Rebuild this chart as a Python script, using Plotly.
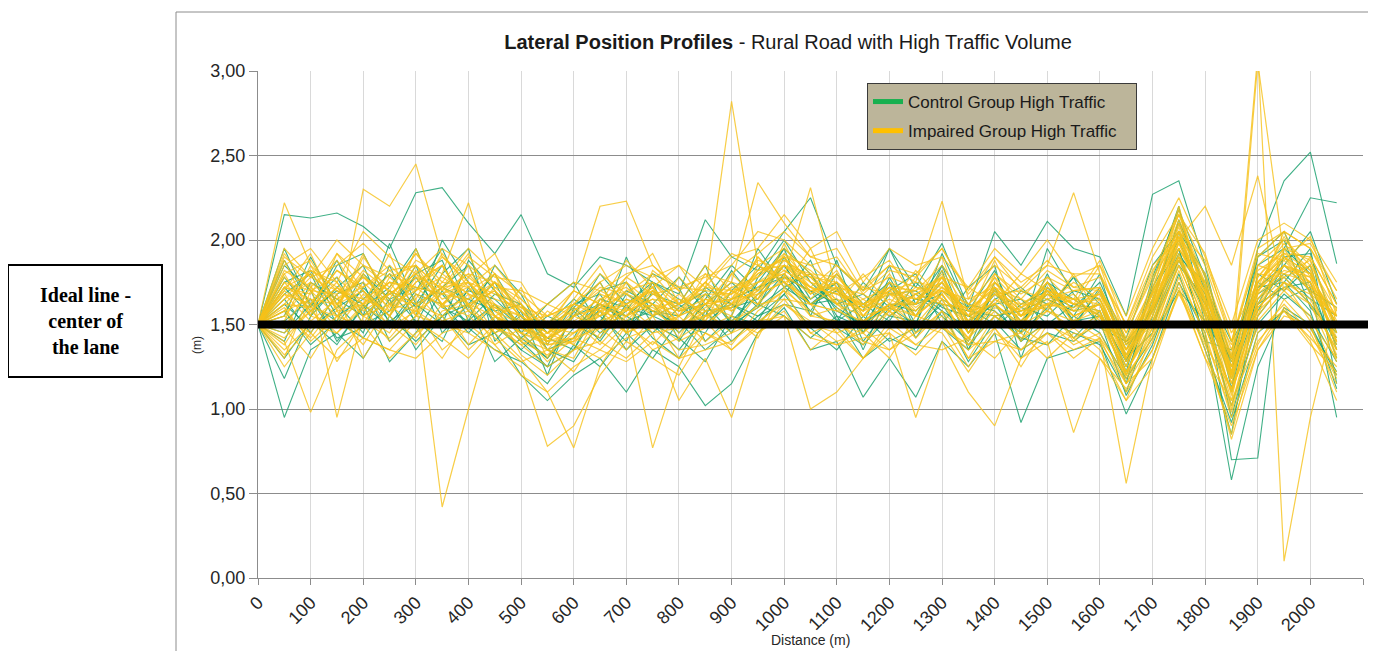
import plotly.graph_objects as go

distance = list(range(0, 2051, 50))

control = [
    [1.50, 2.15, 2.13, 2.16, 2.08, 1.95, 2.28, 2.31, 2.10, 1.92, 2.15, 1.80, 1.72, 1.90, 1.85, 1.75, 1.68, 2.12, 1.90, 1.82, 2.05, 2.25, 1.85, 1.70, 1.95, 1.72, 1.98, 1.60, 2.05, 1.85, 2.11, 1.95, 1.90, 1.55, 2.27, 2.35, 1.85, 1.20, 1.95, 2.35, 2.52, 1.86],
    [1.50, 0.95, 1.35, 1.45, 1.30, 1.55, 1.40, 1.55, 1.38, 1.45, 1.20, 1.05, 1.20, 1.30, 1.10, 1.35, 1.25, 1.02, 1.15, 1.45, 1.60, 1.35, 1.40, 1.07, 1.30, 1.07, 1.40, 1.25, 1.45, 0.92, 1.30, 1.35, 1.40, 0.97, 1.30, 1.75, 1.45, 0.58, 1.25, 1.60, 1.50, 1.20],
    [1.50, 1.18, 1.55, 1.72, 1.85, 1.50, 1.70, 1.95, 1.60, 1.75, 1.45, 1.30, 1.55, 1.80, 1.62, 1.75, 1.40, 1.65, 1.85, 1.70, 1.95, 1.80, 1.55, 1.48, 1.75, 1.55, 1.82, 1.35, 1.72, 1.40, 1.75, 1.65, 1.55, 1.20, 1.65, 2.10, 1.70, 0.70, 0.71, 1.95, 2.25, 2.22],
    [1.50, 1.75, 1.82, 1.55, 1.65, 1.80, 1.60, 1.72, 1.85, 1.55, 1.40, 1.25, 1.35, 1.60, 1.55, 1.45, 1.60, 1.70, 1.50, 1.60, 1.90, 1.65, 1.75, 1.40, 1.60, 1.68, 1.55, 1.40, 1.75, 1.60, 1.55, 1.70, 1.65, 1.30, 1.45, 2.05, 1.55, 1.10, 1.80, 1.70, 1.85, 1.35],
    [1.50, 1.45, 1.62, 1.78, 1.50, 1.58, 1.85, 1.45, 1.62, 1.80, 1.55, 1.42, 1.50, 1.42, 1.68, 1.58, 1.50, 1.45, 1.70, 1.85, 1.75, 1.58, 1.80, 1.62, 1.52, 1.75, 1.60, 1.55, 1.62, 1.48, 1.80, 1.50, 1.70, 1.35, 1.60, 1.90, 1.75, 1.25, 1.65, 1.80, 1.65, 1.55],
    [1.50, 1.65, 1.45, 1.68, 1.75, 1.40, 1.55, 2.00, 1.75, 1.50, 1.35, 1.50, 1.65, 1.55, 1.40, 1.70, 1.58, 1.62, 1.45, 1.78, 2.00, 1.75, 1.60, 1.50, 1.85, 1.45, 1.70, 1.60, 1.50, 1.70, 1.62, 1.42, 1.58, 1.15, 1.75, 2.20, 1.50, 1.30, 1.90, 2.00, 1.60, 1.45],
    [1.50, 1.85, 1.70, 1.40, 1.60, 1.72, 1.95, 1.60, 1.52, 1.68, 1.62, 1.35, 1.42, 1.70, 1.75, 1.50, 1.35, 1.55, 1.62, 1.55, 1.68, 1.88, 1.52, 1.75, 1.60, 1.50, 1.85, 1.62, 1.58, 1.45, 1.60, 1.78, 1.48, 1.40, 1.50, 1.85, 1.65, 0.95, 1.55, 1.75, 1.95, 1.15],
    [1.50, 1.55, 1.90, 1.62, 1.45, 1.85, 1.50, 1.80, 1.95, 1.40, 1.58, 1.20, 1.60, 1.45, 1.58, 1.80, 1.72, 1.40, 1.55, 1.95, 1.72, 1.62, 1.72, 1.35, 1.70, 1.80, 1.50, 1.72, 1.85, 1.30, 1.72, 1.55, 1.80, 1.28, 1.70, 1.95, 1.40, 1.35, 1.75, 1.65, 1.72, 0.95],
    [1.50, 1.72, 1.55, 1.85, 1.92, 1.62, 1.78, 1.55, 1.70, 1.65, 1.50, 1.48, 1.60, 1.75, 1.48, 1.62, 1.78, 1.58, 1.60, 1.65, 1.85, 1.62, 1.70, 1.58, 1.95, 1.62, 1.68, 1.45, 1.70, 1.52, 1.68, 1.60, 1.75, 1.40, 1.58, 1.92, 1.68, 1.22, 1.72, 1.85, 1.70, 1.60],
    [1.50, 1.40, 1.75, 1.65, 1.55, 1.70, 1.62, 1.85, 1.58, 1.45, 1.55, 1.35, 1.28, 1.52, 1.70, 1.62, 1.45, 1.62, 1.75, 1.60, 1.72, 1.80, 1.58, 1.50, 1.62, 1.58, 1.75, 1.52, 1.62, 1.65, 1.50, 1.62, 1.58, 1.25, 1.72, 2.00, 1.62, 1.30, 1.85, 1.95, 1.80, 1.50],
    [1.50, 1.88, 1.62, 1.52, 1.80, 1.65, 1.72, 1.68, 1.50, 1.62, 1.42, 1.55, 1.48, 1.62, 1.55, 1.68, 1.62, 1.50, 1.65, 1.72, 1.78, 1.70, 1.62, 1.68, 1.55, 1.65, 1.62, 1.58, 1.55, 1.58, 1.65, 1.58, 1.62, 1.32, 1.58, 1.88, 1.58, 1.18, 1.62, 1.72, 1.75, 1.30],
    [1.50, 1.62, 1.48, 1.60, 1.70, 1.52, 1.62, 1.72, 1.65, 1.58, 1.62, 1.45, 1.55, 1.62, 1.52, 1.58, 1.55, 1.68, 1.52, 1.68, 1.85, 1.62, 1.65, 1.45, 1.68, 1.70, 1.58, 1.48, 1.68, 1.55, 1.75, 1.52, 1.55, 1.28, 1.62, 2.12, 1.72, 1.40, 1.68, 1.78, 1.62, 1.42],
    [1.50, 1.30, 1.52, 1.38, 1.62, 1.28, 1.45, 1.70, 1.48, 1.35, 1.28, 1.15, 1.38, 1.25, 1.45, 1.30, 1.52, 1.35, 1.48, 1.62, 1.55, 1.42, 1.55, 1.30, 1.42, 1.35, 1.58, 1.28, 1.52, 1.35, 1.45, 1.40, 1.52, 1.08, 1.38, 1.80, 1.35, 0.92, 1.45, 1.58, 1.48, 1.22],
    [1.50, 1.95, 1.60, 1.88, 1.55, 1.98, 1.62, 1.50, 1.88, 1.70, 1.45, 1.62, 1.75, 1.48, 1.90, 1.55, 1.62, 1.85, 1.48, 1.75, 1.95, 1.55, 1.88, 1.45, 1.78, 1.50, 1.92, 1.58, 1.82, 1.45, 1.95, 1.68, 1.50, 1.42, 1.85, 2.05, 1.80, 1.30, 1.58, 1.85, 2.05, 1.62],
    [1.50, 1.58, 1.38, 1.52, 1.42, 1.65, 1.35, 1.55, 1.62, 1.28, 1.42, 1.30, 1.48, 1.58, 1.35, 1.50, 1.42, 1.28, 1.55, 1.50, 1.68, 1.48, 1.35, 1.55, 1.40, 1.48, 1.62, 1.38, 1.55, 1.42, 1.38, 1.55, 1.45, 1.18, 1.42, 1.70, 1.52, 1.02, 1.50, 1.68, 1.55, 1.28],
    [1.50, 1.68, 1.80, 1.50, 1.72, 1.55, 1.80, 1.88, 1.52, 1.85, 1.68, 1.38, 1.62, 1.68, 1.45, 1.75, 1.65, 1.55, 1.82, 1.62, 1.80, 1.62, 1.75, 1.52, 1.62, 1.62, 1.85, 1.45, 1.65, 1.72, 1.58, 1.78, 1.62, 1.22, 1.78, 2.18, 1.78, 1.12, 1.90, 2.05, 1.68, 1.38],
    [1.50, 1.52, 1.65, 1.42, 1.48, 1.70, 1.52, 1.40, 1.72, 1.52, 1.35, 1.25, 1.58, 1.40, 1.62, 1.42, 1.30, 1.58, 1.40, 1.55, 1.62, 1.58, 1.48, 1.38, 1.55, 1.52, 1.48, 1.35, 1.62, 1.40, 1.52, 1.45, 1.38, 1.10, 1.55, 1.95, 1.40, 0.85, 1.72, 1.75, 1.58, 1.12],
    [1.50, 1.78, 1.58, 1.70, 1.62, 1.48, 1.68, 1.62, 1.45, 1.62, 1.48, 1.42, 1.35, 1.65, 1.60, 1.55, 1.48, 1.72, 1.62, 1.52, 1.78, 1.70, 1.52, 1.62, 1.75, 1.42, 1.65, 1.55, 1.48, 1.62, 1.70, 1.48, 1.72, 1.38, 1.52, 1.88, 1.62, 1.28, 1.62, 1.90, 1.92, 1.45],
]

impaired = [
    [1.50, 1.70, 1.60, 1.75, 1.55, 1.68, 1.80, 1.62, 1.75, 1.55, 1.45, 1.40, 1.55, 1.60, 1.68, 1.55, 1.62, 1.70, 2.82, 1.85, 1.75, 1.65, 1.80, 1.60, 1.70, 1.55, 1.78, 1.45, 1.72, 1.58, 1.60, 1.65, 1.55, 1.30, 1.60, 1.95, 1.70, 1.20, 1.75, 1.90, 1.80, 1.50],
    [1.50, 1.55, 1.75, 1.62, 1.80, 1.58, 1.65, 0.42, 1.00, 1.55, 1.40, 1.32, 1.45, 1.55, 1.62, 1.70, 1.45, 1.58, 1.60, 1.80, 1.90, 1.72, 1.62, 1.50, 1.68, 1.65, 1.70, 1.55, 1.62, 1.50, 1.70, 1.55, 1.62, 1.20, 1.58, 2.05, 1.55, 1.10, 1.65, 1.85, 1.75, 1.40],
    [1.50, 1.80, 1.55, 1.50, 2.30, 2.20, 2.45, 1.90, 1.75, 1.60, 1.55, 1.45, 1.60, 1.50, 1.75, 1.62, 1.55, 1.75, 1.65, 1.90, 1.75, 1.80, 1.70, 1.55, 1.60, 1.72, 1.65, 1.40, 1.75, 1.55, 1.70, 1.62, 1.55, 1.25, 1.65, 1.90, 1.60, 1.30, 3.10, 0.10, 0.95, 1.60],
    [1.50, 2.22, 1.85, 1.70, 1.60, 1.75, 1.55, 1.80, 2.22, 1.70, 1.55, 1.35, 1.40, 1.65, 1.55, 1.70, 1.50, 1.62, 1.72, 1.65, 1.85, 1.70, 1.75, 1.60, 1.80, 1.55, 1.70, 1.62, 1.55, 1.60, 1.75, 1.50, 1.65, 1.35, 1.50, 2.00, 1.75, 1.20, 3.05, 1.90, 1.70, 1.30],
    [1.50, 1.35, 1.50, 1.45, 1.60, 1.40, 1.55, 1.50, 1.45, 1.35, 1.25, 0.78, 0.90, 1.20, 1.40, 1.30, 1.20, 1.45, 1.35, 1.50, 1.65, 1.45, 1.52, 1.40, 1.35, 1.45, 1.55, 1.30, 1.40, 1.35, 1.45, 1.30, 1.42, 0.56, 1.30, 1.70, 1.40, 0.82, 1.35, 1.55, 1.50, 1.10],
    [1.50, 1.60, 1.40, 1.55, 1.48, 1.70, 1.62, 1.55, 1.68, 1.45, 1.30, 1.10, 0.77, 1.25, 1.50, 0.77, 1.25, 1.55, 1.62, 1.75, 1.80, 1.55, 1.60, 1.45, 1.62, 1.50, 1.68, 1.45, 1.60, 1.55, 1.62, 1.40, 1.55, 1.20, 1.60, 1.90, 1.50, 1.00, 1.60, 1.75, 1.65, 1.35],
    [1.50, 1.72, 1.80, 1.65, 1.72, 1.85, 1.70, 1.85, 1.60, 1.75, 1.60, 1.55, 1.70, 2.20, 2.23, 1.85, 1.70, 1.80, 1.75, 2.34, 2.10, 1.90, 1.95, 1.70, 1.85, 1.75, 2.23, 1.65, 1.90, 1.70, 1.85, 2.28, 1.80, 1.45, 1.80, 2.15, 1.85, 1.40, 1.95, 2.05, 1.95, 1.70],
    [1.50, 1.40, 0.98, 1.35, 1.50, 1.30, 1.45, 1.55, 1.35, 1.50, 1.38, 1.25, 1.35, 1.40, 1.30, 1.45, 1.05, 1.30, 0.95, 1.45, 1.55, 1.00, 1.10, 1.30, 1.45, 0.95, 1.40, 1.10, 0.90, 1.30, 1.40, 0.86, 1.30, 1.05, 1.25, 1.70, 1.30, 0.90, 1.35, 1.60, 1.40, 1.05],
    [1.50, 1.65, 1.75, 0.95, 1.55, 1.62, 1.85, 1.70, 1.80, 1.62, 1.55, 1.45, 1.50, 1.55, 1.65, 1.60, 1.50, 1.65, 1.58, 1.70, 1.88, 1.78, 1.62, 1.55, 1.70, 1.62, 1.80, 1.50, 1.70, 1.55, 1.62, 1.60, 1.68, 1.28, 1.55, 2.05, 1.62, 1.15, 1.70, 1.90, 1.75, 1.40],
    [1.50, 1.78, 1.62, 1.82, 1.70, 1.55, 1.75, 1.85, 1.62, 1.70, 1.48, 1.40, 1.42, 1.58, 1.52, 1.68, 1.60, 1.52, 1.70, 1.62, 1.78, 2.31, 1.70, 1.62, 1.58, 1.68, 1.75, 1.55, 1.78, 1.48, 1.70, 1.55, 1.62, 1.32, 1.62, 1.95, 1.70, 1.25, 1.62, 1.85, 1.80, 1.48],
    [1.50, 1.52, 1.85, 1.58, 1.90, 1.68, 1.60, 1.75, 1.72, 1.55, 1.62, 1.30, 1.55, 1.48, 1.60, 1.72, 1.48, 1.60, 1.68, 1.78, 1.90, 1.68, 1.75, 1.50, 1.60, 1.55, 1.68, 1.48, 1.65, 1.58, 1.62, 1.68, 1.52, 1.22, 1.50, 1.92, 1.58, 1.05, 1.80, 1.78, 1.85, 1.35],
    [1.50, 1.30, 1.70, 1.55, 1.62, 1.80, 1.72, 1.60, 1.65, 1.80, 1.52, 1.48, 1.38, 1.62, 1.45, 1.55, 1.68, 1.55, 1.48, 1.68, 1.75, 1.62, 1.58, 1.65, 1.55, 1.68, 1.62, 1.42, 1.72, 1.50, 1.68, 1.52, 1.70, 1.35, 1.68, 1.88, 1.75, 1.30, 1.55, 1.95, 1.68, 1.55],
    [1.50, 1.90, 1.78, 2.00, 1.85, 1.72, 1.92, 1.75, 1.95, 1.80, 1.68, 1.55, 1.62, 1.75, 1.85, 1.78, 1.85, 1.72, 1.90, 1.95, 2.15, 1.95, 2.05, 1.75, 1.95, 1.85, 1.90, 1.72, 1.95, 1.80, 2.00, 1.78, 1.85, 1.55, 1.95, 2.25, 1.90, 1.50, 2.00, 2.10, 2.00, 1.75],
    [1.50, 1.45, 1.58, 1.72, 1.55, 1.45, 1.68, 1.52, 1.58, 1.48, 1.42, 1.35, 1.52, 1.38, 1.55, 1.62, 1.42, 1.68, 1.52, 1.60, 1.70, 1.58, 1.50, 1.45, 1.58, 1.48, 1.65, 1.38, 1.55, 1.45, 1.58, 1.48, 1.55, 1.18, 1.45, 1.85, 1.48, 1.12, 1.58, 1.72, 1.62, 1.28],
    [1.50, 1.68, 1.52, 1.65, 1.78, 1.62, 1.58, 1.68, 1.75, 1.58, 1.45, 1.52, 1.48, 1.68, 1.62, 1.48, 1.55, 1.62, 1.65, 1.82, 1.85, 1.75, 1.65, 1.58, 1.75, 1.58, 1.72, 1.58, 1.62, 1.48, 1.72, 1.62, 1.58, 1.25, 1.60, 2.02, 1.65, 1.18, 1.72, 1.88, 1.72, 1.45],
    [1.50, 1.58, 1.65, 1.48, 1.68, 1.55, 1.78, 1.62, 1.55, 1.72, 1.58, 1.40, 1.45, 1.52, 1.58, 1.65, 1.52, 1.50, 1.62, 1.70, 1.78, 1.70, 1.72, 1.52, 1.62, 1.62, 1.70, 1.52, 1.68, 1.55, 1.65, 1.55, 1.62, 1.28, 1.55, 1.98, 1.62, 1.20, 1.68, 1.82, 1.78, 1.42],
    [1.50, 1.75, 1.70, 1.78, 1.62, 1.75, 1.70, 1.78, 1.68, 1.62, 1.50, 1.42, 1.50, 1.60, 1.55, 1.75, 1.58, 1.62, 1.65, 1.75, 1.85, 1.80, 1.62, 1.62, 1.68, 1.55, 1.78, 1.55, 1.75, 1.60, 1.68, 1.62, 1.65, 1.30, 1.62, 2.08, 1.58, 1.25, 1.75, 1.92, 1.82, 1.38],
    [1.50, 1.62, 1.60, 1.55, 1.75, 1.60, 1.82, 1.65, 1.72, 1.55, 1.45, 1.38, 1.42, 1.48, 1.65, 1.58, 1.48, 1.55, 1.60, 1.72, 1.82, 1.72, 1.68, 1.58, 1.65, 1.58, 1.75, 1.48, 1.65, 1.52, 1.62, 1.58, 1.58, 1.22, 1.52, 1.95, 1.65, 1.08, 1.65, 1.80, 1.75, 1.50],
    [1.50, 1.85, 1.95, 1.75, 2.05, 1.90, 1.80, 1.95, 1.85, 1.72, 1.70, 1.62, 1.75, 1.70, 1.80, 1.85, 1.72, 1.78, 1.85, 2.05, 2.00, 1.85, 1.90, 1.68, 1.82, 1.78, 1.95, 1.68, 1.85, 1.72, 1.88, 1.72, 1.78, 1.50, 1.85, 2.00, 2.20, 1.85, 2.38, 1.70, 1.90, 1.62],
    [1.50, 1.25, 1.45, 1.30, 1.42, 1.35, 1.30, 1.45, 1.50, 1.38, 1.20, 1.10, 1.25, 1.35, 1.28, 1.40, 1.30, 1.35, 1.40, 1.52, 1.62, 1.50, 1.45, 1.30, 1.48, 1.38, 1.50, 1.25, 1.48, 1.30, 1.45, 1.35, 1.42, 1.10, 1.35, 1.75, 1.35, 0.85, 1.45, 1.62, 1.45, 1.15],
    [1.50, 1.92, 1.70, 1.68, 1.85, 1.78, 1.65, 1.92, 1.72, 1.85, 1.65, 1.50, 1.58, 1.72, 1.68, 1.80, 1.62, 1.75, 1.92, 1.85, 1.95, 1.80, 1.78, 1.62, 1.72, 1.70, 1.85, 1.62, 1.80, 1.68, 1.78, 1.70, 1.72, 1.42, 1.72, 2.12, 1.78, 1.32, 1.85, 2.00, 1.85, 1.58],
    [1.50, 1.58, 1.82, 1.72, 1.58, 1.68, 1.78, 1.72, 1.62, 1.70, 1.55, 1.45, 1.55, 1.65, 1.72, 1.58, 1.65, 1.58, 1.72, 1.78, 1.92, 1.75, 1.70, 1.60, 1.68, 1.62, 1.82, 1.58, 1.72, 1.58, 1.70, 1.65, 1.62, 1.35, 1.65, 2.05, 1.72, 1.28, 1.78, 1.95, 1.88, 1.52],
    [1.50, 1.68, 1.62, 1.82, 1.72, 1.82, 1.68, 1.62, 1.78, 1.65, 1.60, 1.48, 1.45, 1.58, 1.62, 1.70, 1.58, 1.65, 1.62, 1.82, 1.88, 1.78, 1.75, 1.65, 1.72, 1.65, 1.75, 1.52, 1.78, 1.62, 1.72, 1.62, 1.68, 1.38, 1.68, 2.10, 1.68, 1.22, 1.70, 1.85, 1.78, 1.55],
    [1.50, 1.80, 1.88, 1.62, 1.78, 1.65, 1.88, 1.80, 1.68, 1.60, 1.52, 1.55, 1.62, 1.55, 1.78, 1.68, 1.72, 1.70, 1.68, 1.88, 1.82, 1.72, 1.85, 1.70, 1.78, 1.72, 1.70, 1.65, 1.72, 1.65, 1.82, 1.72, 1.70, 1.45, 1.78, 2.02, 1.80, 1.35, 1.82, 1.92, 1.90, 1.62],
    [1.50, 1.62, 1.78, 1.70, 1.65, 1.75, 1.72, 1.68, 1.80, 1.75, 1.62, 1.40, 1.52, 1.62, 1.58, 1.65, 1.62, 1.72, 1.70, 1.75, 1.80, 1.68, 1.80, 1.55, 1.75, 1.68, 1.78, 1.55, 1.68, 1.62, 1.62, 1.75, 1.65, 1.30, 1.70, 1.98, 1.70, 1.15, 1.78, 1.98, 1.82, 1.45],
    [1.50, 1.72, 1.65, 1.62, 1.82, 1.70, 1.92, 1.72, 1.75, 1.68, 1.58, 1.42, 1.58, 1.70, 1.62, 1.72, 1.55, 1.62, 1.75, 1.70, 1.85, 1.72, 1.68, 1.62, 1.70, 1.75, 1.72, 1.58, 1.72, 1.55, 1.75, 1.58, 1.72, 1.38, 1.62, 2.18, 1.62, 1.18, 1.72, 2.02, 1.78, 1.40],
    [1.50, 1.48, 1.72, 1.88, 1.65, 1.58, 1.75, 1.85, 1.62, 1.55, 1.48, 1.38, 1.40, 1.50, 1.55, 1.62, 1.50, 1.55, 1.65, 1.68, 1.75, 1.62, 1.58, 1.52, 1.62, 1.55, 1.68, 1.45, 1.62, 1.50, 1.58, 1.52, 1.58, 1.15, 1.48, 1.90, 1.55, 1.02, 1.60, 1.75, 1.68, 1.32],
    [1.50, 1.75, 1.58, 1.72, 1.62, 1.68, 1.80, 1.68, 1.65, 1.75, 1.65, 1.50, 1.62, 1.58, 1.70, 1.75, 1.62, 1.68, 1.68, 1.80, 1.90, 1.85, 1.72, 1.58, 1.72, 1.60, 1.72, 1.62, 1.75, 1.60, 1.68, 1.65, 1.68, 1.40, 1.65, 2.10, 1.75, 1.30, 1.75, 1.90, 1.80, 1.50],
    [1.50, 1.38, 1.62, 1.28, 1.52, 1.42, 1.60, 1.35, 1.48, 1.62, 1.32, 1.20, 1.35, 1.48, 1.35, 1.55, 1.30, 1.45, 1.38, 1.58, 1.70, 1.45, 1.38, 1.48, 1.35, 1.50, 1.45, 1.22, 1.45, 1.35, 1.52, 1.38, 1.45, 1.15, 1.40, 1.82, 1.42, 0.98, 1.52, 1.70, 1.55, 1.20],
    [1.50, 1.88, 1.55, 1.92, 1.70, 1.55, 1.95, 1.60, 1.85, 1.50, 1.72, 1.38, 1.65, 1.85, 1.58, 1.72, 1.55, 1.80, 1.62, 1.90, 1.72, 1.95, 1.62, 1.80, 1.62, 1.82, 1.65, 1.55, 1.88, 1.55, 1.78, 1.62, 1.85, 1.40, 1.70, 2.20, 1.65, 1.38, 1.92, 1.88, 2.02, 1.55],
    [1.50, 1.48, 1.30, 1.55, 1.38, 1.62, 1.48, 1.30, 1.55, 1.42, 1.28, 1.35, 1.22, 1.45, 1.52, 1.35, 1.42, 1.52, 1.35, 1.48, 1.58, 1.35, 1.48, 1.30, 1.52, 1.38, 1.35, 1.42, 1.30, 1.48, 1.38, 1.48, 1.35, 1.05, 1.45, 1.72, 1.30, 1.05, 1.40, 1.58, 1.42, 1.25],
    [1.50, 1.70, 1.92, 1.58, 1.62, 1.92, 1.55, 1.72, 1.92, 1.58, 1.50, 1.62, 1.55, 1.75, 1.45, 1.82, 1.70, 1.52, 1.80, 1.65, 1.98, 1.68, 1.82, 1.55, 1.72, 1.62, 1.90, 1.48, 1.80, 1.65, 1.58, 1.80, 1.55, 1.35, 1.75, 2.15, 1.72, 1.22, 1.68, 2.05, 1.72, 1.60],
    [1.50, 1.55, 1.45, 1.68, 1.30, 1.55, 1.42, 1.62, 1.38, 1.55, 1.45, 1.28, 1.42, 1.35, 1.50, 1.38, 1.55, 1.40, 1.52, 1.45, 1.62, 1.52, 1.40, 1.45, 1.30, 1.55, 1.50, 1.35, 1.48, 1.25, 1.50, 1.42, 1.30, 1.12, 1.35, 1.78, 1.45, 0.95, 1.38, 1.65, 1.48, 1.18],
    [1.50, 1.82, 1.72, 1.60, 1.92, 1.62, 1.70, 1.90, 1.78, 1.92, 1.62, 1.48, 1.70, 1.62, 1.78, 1.92, 1.62, 1.85, 1.70, 1.62, 1.92, 1.82, 1.68, 1.78, 1.88, 1.65, 1.78, 1.72, 1.62, 1.80, 1.70, 1.65, 1.88, 1.48, 1.82, 2.05, 1.88, 1.45, 1.75, 1.95, 1.98, 1.70],
    [1.50, 1.42, 1.58, 1.45, 1.62, 1.50, 1.38, 1.58, 1.62, 1.45, 1.52, 1.35, 1.30, 1.58, 1.45, 1.52, 1.40, 1.48, 1.55, 1.42, 1.72, 1.55, 1.52, 1.38, 1.58, 1.42, 1.58, 1.30, 1.55, 1.42, 1.50, 1.52, 1.42, 1.20, 1.42, 1.88, 1.52, 1.10, 1.55, 1.75, 1.52, 1.30],
    [1.50, 1.65, 1.82, 1.75, 1.50, 1.78, 1.85, 1.62, 1.70, 1.80, 1.40, 1.58, 1.48, 1.60, 1.75, 1.55, 1.78, 1.62, 1.55, 1.85, 1.78, 1.62, 1.72, 1.68, 1.58, 1.78, 1.62, 1.60, 1.70, 1.52, 1.75, 1.58, 1.62, 1.30, 1.58, 2.00, 1.58, 1.25, 1.85, 1.80, 1.88, 1.48],
    [1.50, 1.32, 1.48, 1.58, 1.42, 1.35, 1.52, 1.42, 1.30, 1.48, 1.38, 1.45, 1.38, 1.30, 1.42, 1.48, 1.35, 1.38, 1.45, 1.52, 1.55, 1.42, 1.38, 1.42, 1.45, 1.32, 1.48, 1.38, 1.40, 1.45, 1.30, 1.45, 1.40, 1.15, 1.30, 1.68, 1.38, 1.12, 1.48, 1.58, 1.38, 1.22],
    [1.50, 1.72, 1.68, 1.92, 1.78, 1.70, 1.62, 1.72, 1.58, 1.75, 1.58, 1.45, 1.62, 1.80, 1.68, 1.62, 1.58, 1.75, 1.58, 1.72, 1.85, 1.78, 1.62, 1.72, 1.68, 1.70, 1.78, 1.50, 1.68, 1.70, 1.65, 1.70, 1.72, 1.32, 1.68, 2.02, 1.65, 1.20, 1.70, 1.85, 1.70, 1.55],
    [1.50, 1.58, 1.42, 1.62, 1.70, 1.48, 1.58, 1.48, 1.62, 1.38, 1.48, 1.42, 1.52, 1.42, 1.60, 1.45, 1.48, 1.58, 1.45, 1.62, 1.65, 1.62, 1.45, 1.52, 1.62, 1.45, 1.58, 1.42, 1.58, 1.40, 1.62, 1.42, 1.50, 1.22, 1.48, 1.85, 1.48, 1.12, 1.62, 1.78, 1.62, 1.35],
    [1.50, 1.95, 1.78, 1.85, 1.98, 1.82, 1.85, 1.70, 1.90, 1.78, 1.75, 1.50, 1.70, 1.62, 1.88, 1.72, 1.85, 1.62, 1.80, 1.92, 2.05, 1.90, 1.85, 1.72, 1.85, 1.80, 1.95, 1.70, 1.90, 1.75, 1.85, 1.80, 1.80, 1.50, 1.90, 2.15, 1.92, 1.40, 1.90, 2.05, 1.95, 1.65],
]

x_ticks = list(range(0, 2101, 100))
x_labels = [str(v) for v in range(0, 2001, 100)] + [""]
y_ticks = [0, 0.5, 1.0, 1.5, 2.0, 2.5, 3.0]
y_labels = ["0,00", "0,50", "1,00", "1,50", "2,00", "2,50", "3,00"]
ideal_value = 1.5

GREEN = "#1FA372"
YELLOW = "#F7C21A"
SANS = "Liberation Sans, Arial, sans-serif"

fig = go.Figure()
for ys in control:
    fig.add_trace(go.Scatter(x=distance, y=ys, mode="lines", line=dict(color=GREEN, width=1.1),
                             opacity=0.85, showlegend=False, hoverinfo="skip"))
for ys in impaired:
    fig.add_trace(go.Scatter(x=distance, y=ys, mode="lines", line=dict(color=YELLOW, width=1.2),
                             opacity=0.8, showlegend=False, hoverinfo="skip"))
# legend entries
fig.add_trace(go.Scatter(x=[None], y=[None], mode="lines", name="Control Group High Traffic\u00a0\u00a0\u00a0",
                         legendgroup="c", line=dict(color="#17B04F", width=5)))
fig.add_trace(go.Scatter(x=[None], y=[None], mode="lines", name="Impaired Group High Traffic\u00a0\u00a0\u00a0",
                         legendgroup="i", line=dict(color="#FFC000", width=5)))

# the page body has an 8px margin, so the figure starts at (8, 8) in the screenshot
OFF = 8
W, H = 1376 - OFF, 651 - OFF
PL, PR, PT, PB = 258, 1363, 71, 578   # plot area in screenshot pixels
L, R, T, B = PL - OFF, 1376 - PR, PT - OFF, 651 - PB
pw, ph = PR - PL, PB - PT


def px(x):
    return (x - PL) / pw


def py(y):
    return (PB - y) / ph


fig.update_layout(
    width=W, height=H, autosize=False,
    margin=dict(l=L, r=R, t=T, b=B),
    paper_bgcolor="white", plot_bgcolor="white",
    font=dict(family=SANS, color="#262626"),
    xaxis=dict(range=[0, 2100], tickvals=x_ticks, ticktext=x_labels, tickangle=-45,
               tickfont=dict(size=18, family=SANS, color="#262626"),
               showgrid=True, gridcolor="#D9D9D9", gridwidth=1,
               showline=True, linecolor="#8C8C8C", linewidth=1,
               ticks="outside", ticklen=6, tickcolor="#8C8C8C", zeroline=False, fixedrange=True),
    yaxis=dict(range=[0, 3], tickvals=y_ticks, ticktext=y_labels,
               tickfont=dict(size=18, family=SANS, color="#262626"),
               showgrid=True, gridcolor="#8C8C8C", gridwidth=1,
               showline=True, linecolor="#8C8C8C", linewidth=1,
               ticks="outside", ticklen=8, tickcolor="#8C8C8C", zeroline=False, fixedrange=True),
    legend=dict(x=px(867), y=py(83), xanchor="left", yanchor="top",
                bgcolor="#BCB59A", bordercolor="#3A3A3A", borderwidth=1,
                font=dict(size=17, family=SANS, color="#1A1A1A"),
                tracegroupgap=4, itemwidth=30),
    title=dict(text="<b>Lateral Position Profiles</b> - Rural Road with High Traffic Volume",
               x=px(788), xref="paper", xanchor="center", y=1 - (42 - OFF) / H, yanchor="middle",
               font=dict(size=20, family=SANS, color="#1A1A1A")),
    showlegend=True,
)

shapes = [
    # outer chart border
    dict(type="rect", xref="paper", yref="paper", x0=px(176), x1=px(1400), y0=py(12), y1=py(670),
         line=dict(color="#8C8C8C", width=1), fillcolor="rgba(0,0,0,0)", layer="below"),
    # ideal line
    dict(type="line", xref="paper", yref="paper", x0=0, x1=px(1380),
         y0=ideal_value / 3, y1=ideal_value / 3, line=dict(color="black", width=8)),
    # label box
    dict(type="rect", xref="paper", yref="paper", x0=px(8), x1=px(162), y0=py(377), y1=py(265),
         line=dict(color="black", width=2), fillcolor="white"),
]
fig.update_layout(shapes=shapes)

fig.add_annotation(xref="paper", yref="paper", x=px(85), y=py(321), xanchor="center", yanchor="middle",
                   showarrow=False, text="<b>Ideal line -<br>center of<br>the lane</b>",
                   font=dict(family="Liberation Serif, Times New Roman, serif", size=20, color="black"),
                   align="center")
fig.add_annotation(xref="paper", yref="paper", x=px(810), y=py(640), xanchor="center", yanchor="middle",
                   showarrow=False, text="Distance (m)",
                   font=dict(size=14, family=SANS, color="#262626"))
fig.add_annotation(xref="paper", yref="paper", x=px(197), y=py(345), xanchor="center", yanchor="middle",
                   showarrow=False, text="(m)", textangle=-90,
                   font=dict(size=12, family=SANS, color="#262626"))

fig.write_html("out.html")
